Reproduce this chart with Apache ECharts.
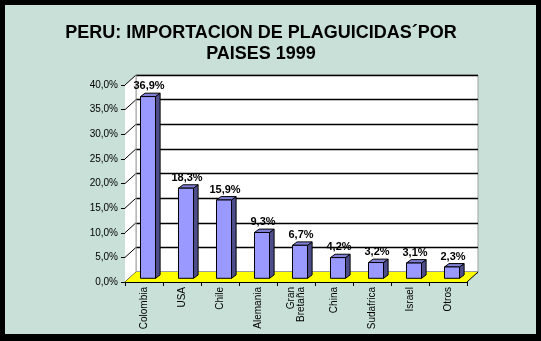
<!DOCTYPE html>
<html>
<head>
<meta charset="utf-8">
<script src="https://cdn.jsdelivr.net/npm/echarts@6/dist/echarts.min.js"></script>
<style>
html,body{margin:0;padding:0;background:#000;}
#c{width:541px;height:341px;}
</style>
</head>
<body>
<div id="c"></div>
<script>
// ---- data ----
const categories = ['Colombia', 'USA', 'Chile', 'Alemania', 'Gran\nBretaña', 'China', 'Sudafrica', 'Israel', 'Otros'];
const shares = [36.9, 18.3, 15.9, 9.3, 6.7, 4.2, 3.2, 3.1, 2.3];
const yTicks = [0, 5, 10, 15, 20, 25, 30, 35, 40];
const titleText = 'PERU: IMPORTACION DE PLAGUICIDAS´POR\nPAISES 1999';

// ---- style constants ----
const DX = 11, DY = 10;            // 3D depth offset of back wall
const BAR_OX = 4, BAR_OY = 3.7;    // bar front plane offset
const BAR_DX = 4.6, BAR_DY = 3.4;  // bar depth
const FONT = 'Arial, "Liberation Sans", sans-serif';
const fmt = v => v.toFixed(1).replace('.', ',') + '%';

const chart = echarts.init(document.getElementById('c'), null, {renderer: 'canvas'});

const FRONT = {left: 125, top: 85, width: 342, height: 197};
const BACK = {left: FRONT.left + DX, top: FRONT.top - DY, width: FRONT.width, height: FRONT.height};

const option = {
  backgroundColor: '#000',
  animation: false,
  graphic: [{
    type: 'rect', z: -100, silent: true,
    shape: {x: 5, y: 5, width: 531, height: 329},
    style: {fill: '#C8E0D8'}
  }],
  title: {
    text: titleText,
    left: 256,
    top: 18,
    padding: 5,
    textAlign: 'center',
    textStyle: {fontFamily: FONT, fontWeight: 'bold', fontSize: 18, lineHeight: 21, color: '#000'}
  },
  grid: [
    Object.assign({show: false}, FRONT),
    Object.assign({show: true, backgroundColor: '#fff', borderColor: '#A0A0A0', borderWidth: 1}, BACK)
  ],
  xAxis: [{
    type: 'category', gridIndex: 0, data: categories, boundaryGap: true,
    axisLine: {show: true, lineStyle: {color: '#000', width: 1}},
    axisTick: {show: true, length: 4, lineStyle: {color: '#000'}},
    axisLabel: {rotate: 90, margin: 5, fontFamily: FONT, fontSize: 10, color: '#000', interval: 0}
  }, {
    type: 'category', gridIndex: 1, data: categories, show: false
  }],
  yAxis: [{
    type: 'value', gridIndex: 0, min: yTicks[0], max: yTicks[yTicks.length - 1], interval: yTicks[1] - yTicks[0],
    axisLine: {show: true, lineStyle: {color: '#000', width: 1}},
    axisTick: {show: true, length: 4, lineStyle: {color: '#000'}},
    splitLine: {show: false},
    axisLabel: {margin: 7, fontFamily: FONT, fontSize: 10, color: '#000', formatter: v => fmt(v)}
  }, {
    type: 'value', gridIndex: 1, min: yTicks[0], max: yTicks[yTicks.length - 1], interval: yTicks[1] - yTicks[0],
    axisLine: {show: false}, axisTick: {show: false}, axisLabel: {show: false},
    splitLine: {show: true, lineStyle: {color: '#000', width: 1.3}}
  }],
  series: [{
    // side wall + floor
    type: 'custom', xAxisIndex: 0, yAxisIndex: 0, z: 1, silent: true,
    data: [0],
    renderItem: function (params, api) {
      const cs = params.coordSys;
      const x0 = cs.x, x1 = cs.x + cs.width;
      const yb = api.coord([0, yTicks[0]])[1];
      const yt = api.coord([0, yTicks[yTicks.length - 1]])[1];
      const children = [];
      children.push({type: 'polygon', shape: {points: [[x0, yb], [x0 + DX, yb - DY], [x0 + DX, yt - DY], [x0, yt]]},
        style: {fill: '#fff', stroke: null}});
      yTicks.forEach(function (t) {
        const y = api.coord([0, t])[1];
        children.push({type: 'line', shape: {x1: x0, y1: y, x2: x0 + DX, y2: y - DY},
          style: {stroke: '#000', lineWidth: 1}});
      });
      children.push({type: 'line', shape: {x1: x0 + DX, y1: yb - DY, x2: x0 + DX, y2: yt - DY},
        style: {stroke: '#A0A0A0', lineWidth: 1}});
      children.push({type: 'polygon', shape: {points: [[x0, yb], [x1, yb], [x1 + DX, yb - DY], [x0 + DX, yb - DY]]},
        style: {fill: '#FFFF00', stroke: null}});
      children.push({type: 'line', shape: {x1: x1, y1: yb, x2: x1 + DX, y2: yb - DY},
        style: {stroke: '#000', lineWidth: 1}});
      return {type: 'group', children: children};
    }
  }, {
    // 3D bars
    type: 'custom', xAxisIndex: 0, yAxisIndex: 0, z: 3,
    data: shares.map((v, i) => [i, v]),
    renderItem: function (params, api) {
      const i = api.value(0), v = api.value(1);
      const top = api.coord([i, v]);
      const base = api.coord([i, 0]);
      const bw = api.size([1, 0])[0] * 0.395;
      const xl = top[0] - bw / 2 + BAR_OX, xr = xl + bw;
      const yt = top[1] - BAR_OY, yb = base[1] - BAR_OY;
      const st = {stroke: '#000', lineWidth: 1, lineJoin: 'round'};
      return {type: 'group', children: [
        {type: 'polygon', shape: {points: [[xr, yb], [xr + BAR_DX, yb - BAR_DY], [xr + BAR_DX, yt - BAR_DY], [xr, yt]]},
          style: Object.assign({fill: '#4D4D8C'}, st)},
        {type: 'polygon', shape: {points: [[xl, yt], [xr, yt], [xr + BAR_DX, yt - BAR_DY], [xl + BAR_DX, yt - BAR_DY]]},
          style: Object.assign({fill: '#7F7FD6'}, st)},
        {type: 'polygon', shape: {points: [[xl, yb], [xr, yb], [xr, yt], [xl, yt]]},
          style: Object.assign({fill: '#9999FF'}, st)},
        {type: 'text', style: {text: fmt(v), x: (xl + xr) / 2 + 1, y: yt - 10.5, align: 'center', verticalAlign: 'middle',
          font: 'bold 11px ' + FONT, fill: '#000'}}
      ]};
    }
  }]
};
chart.setOption(option);
</script>
</body>
</html>
